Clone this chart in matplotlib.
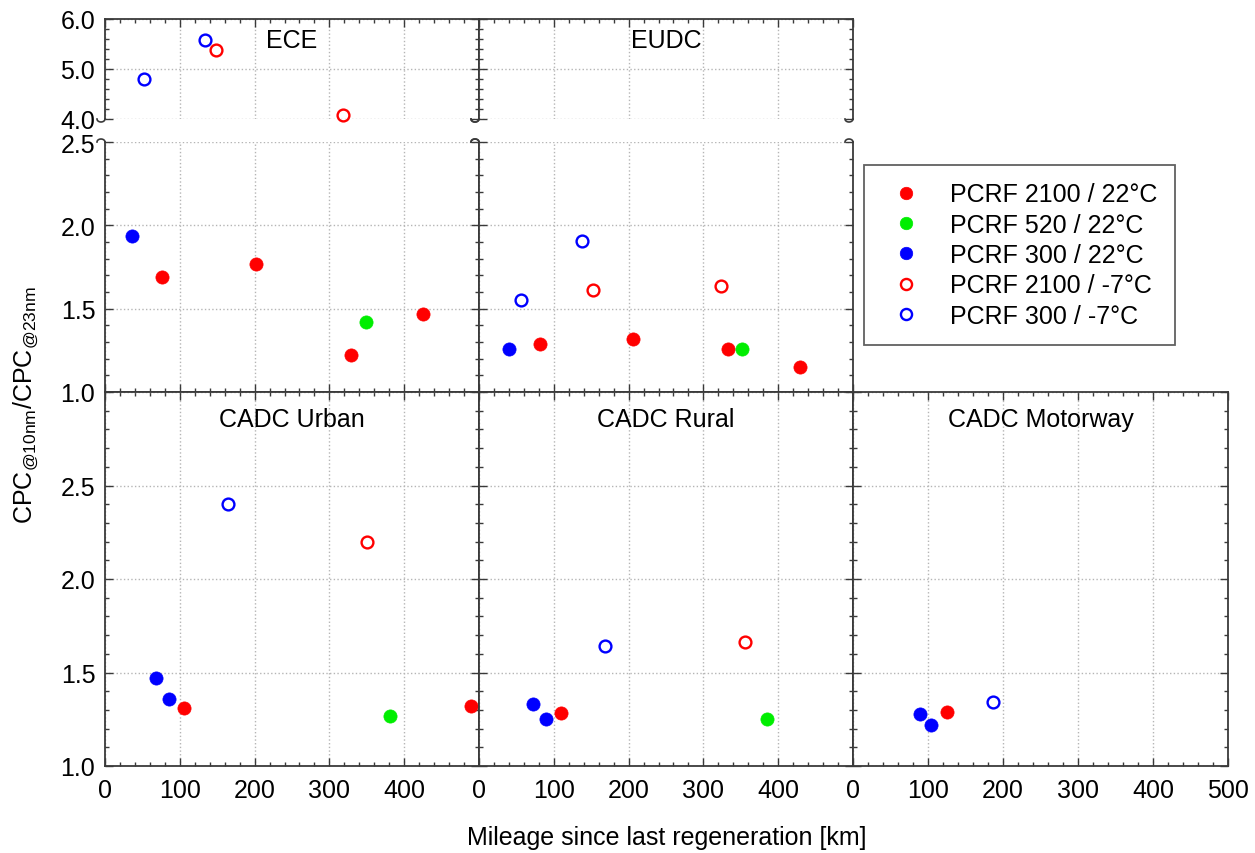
import numpy as np
import matplotlib
matplotlib.use('Agg')
import matplotlib.pyplot as plt
from matplotlib.lines import Line2D
from matplotlib.ticker import MultipleLocator

plt.rcParams['font.family'] = ['Liberation Sans', 'DejaVu Sans']
plt.rcParams['font.size'] = 18
plt.rcParams['mathtext.default'] = 'regular'

# panels of the chart
panels = ['ECE', 'EUDC', 'CADC Urban', 'CADC Rural', 'CADC Motorway']

# PCRF 2100 / 22°C (filled red)
red22_panel = ['ECE', 'ECE', 'ECE', 'ECE', 'EUDC', 'EUDC', 'EUDC', 'EUDC',
               'CADC Urban', 'CADC Urban', 'CADC Rural', 'CADC Motorway']
red22_km = [76, 202, 329, 425, 81, 206, 333, 429, 105, 489, 110, 125]
red22_ratio = [1.69, 1.77, 1.22, 1.47, 1.29, 1.32, 1.26, 1.15, 1.31, 1.32, 1.285, 1.29]

# PCRF 520 / 22°C (filled green)
green22_panel = ['ECE', 'EUDC', 'CADC Urban', 'CADC Rural']
green22_km = [349, 352, 381, 385]
green22_ratio = [1.42, 1.26, 1.27, 1.25]

# PCRF 300 / 22°C (filled blue)
blue22_panel = ['ECE', 'EUDC', 'CADC Urban', 'CADC Urban', 'CADC Rural', 'CADC Rural',
                'CADC Motorway', 'CADC Motorway']
blue22_km = [36, 40, 68, 85, 72, 89, 89, 104]
blue22_ratio = [1.935, 1.26, 1.47, 1.36, 1.33, 1.25, 1.28, 1.22]

# PCRF 2100 / -7°C (open red)
red7_panel = ['ECE', 'ECE', 'EUDC', 'EUDC', 'CADC Urban', 'CADC Rural']
red7_km = [148, 318, 153, 323, 350, 355]
red7_ratio = [5.38, 4.08, 1.615, 1.635, 2.20, 1.665]

# PCRF 300 / -7°C (open blue)
blue7_panel = ['ECE', 'ECE', 'EUDC', 'EUDC', 'CADC Urban', 'CADC Rural', 'CADC Motorway']
blue7_km = [52, 134, 56, 138, 165, 169, 186]
blue7_ratio = [4.80, 5.58, 1.55, 1.905, 2.40, 1.64, 1.34]

series = [
    ('PCRF 2100 / 22°C', red22_panel, red22_km, red22_ratio, '#ff0000', True),
    ('PCRF 520 / 22°C', green22_panel, green22_km, green22_ratio, '#00ee00', True),
    ('PCRF 300 / 22°C', blue22_panel, blue22_km, blue22_ratio, '#0000ff', True),
    ('PCRF 2100 / -7°C', red7_panel, red7_km, red7_ratio, '#ff0000', False),
    ('PCRF 300 / -7°C', blue7_panel, blue7_km, blue7_ratio, '#0000ff', False),
]

W, H = 1255, 854
fig = plt.figure(figsize=(W / 100, H / 100), dpi=100)
spine_c = '#3a3a3a'

def px(x0, y0, x1, y1):
    return [x0 / W, 1 - y1 / H, (x1 - x0) / W, (y1 - y0) / H]

cols = [105, 479, 853, 1228]

def style(ax, ymajor, yminor):
    ax.set_xlim(0, 500)
    ax.xaxis.set_major_locator(MultipleLocator(100))
    ax.xaxis.set_minor_locator(MultipleLocator(20))
    ax.yaxis.set_major_locator(MultipleLocator(ymajor))
    ax.yaxis.set_minor_locator(MultipleLocator(yminor))
    ax.tick_params(which='both', direction='in', top=True, right=True,
                   color=spine_c, width=1, labelsize=18)
    ax.tick_params(which='major', length=6)
    ax.tick_params(which='minor', length=3)
    ax.tick_params(axis='y', pad=7)
    ax.tick_params(axis='x', pad=9)
    ax.grid(True, which='major', ls=':', color='#b5b5b5', lw=1)
    for s in ax.spines.values():
        s.set_color(spine_c)
        s.set_linewidth(1.3)
    ax.set_facecolor('white')

def draw(ax, name, lo, hi):
    for label, pn, km, ratio, c, filled in series:
        xs = [k for p, k, r in zip(pn, km, ratio) if p == name and lo <= r <= hi]
        ys = [r for p, k, r in zip(pn, km, ratio) if p == name and lo <= r <= hi]
        if filled:
            ax.plot(xs, ys, 'o', ms=9.5, mfc=c, mec=c, mew=0.5, clip_on=False, zorder=3)
        else:
            ax.plot(xs, ys, 'o', ms=8.5, mfc='none', mec=c, mew=1.7, clip_on=False, zorder=3)

def brk(ax, ya, up):
    # small curl marks where the y axis is broken
    w, h = ax.bbox.width, ax.bbox.height
    t = np.linspace(0, np.pi, 12)
    sign = 1 if up else -1
    for xa in (0, 1):
        xs = xa + (-4 + 4 * np.cos(t)) / w
        ys = ya + sign * 3 * np.sin(t) / h
        ax.plot(xs, ys, color=spine_c, lw=1.2, transform=ax.transAxes, clip_on=False)

# top row: broken y axis for ECE and EUDC
for i, name in enumerate(panels[:2]):
    up = fig.add_axes(px(cols[i], 20, cols[i + 1], 120))
    lo = fig.add_axes(px(cols[i], 143, cols[i + 1], 393))
    up.set_ylim(4.0, 6.0)
    lo.set_ylim(1.0, 2.5)
    style(up, 1.0, 0.2)
    style(lo, 0.5, 0.1)
    up.spines['bottom'].set_visible(False)
    lo.spines['top'].set_visible(False)
    up.tick_params(which='both', bottom=False, labelbottom=False)
    lo.tick_params(which='both', top=False, labelbottom=False)
    up.set_yticks([4.0, 5.0, 6.0])
    if i == 0:
        up.set_yticklabels(['4.0', '5.0', '6.0'])
        lo.set_yticks([1.0, 1.5, 2.0, 2.5])
        lo.set_yticklabels(['1.0', '1.5', '2.0', '2.5'])
    else:
        up.tick_params(labelleft=False)
        lo.tick_params(labelleft=False)
    draw(up, name, 3.0, 10)
    draw(lo, name, 0, 3.0)
    up.text(0.5, 0.79, name, transform=up.transAxes, ha='center', va='center', fontsize=18)
    brk(up, 0, False)
    brk(lo, 1, True)

# bottom row: CADC phases
for i, name in enumerate(panels[2:]):
    ax = fig.add_axes(px(cols[i], 393, cols[i + 1], 767))
    ax.set_ylim(1.0, 3.0)
    style(ax, 0.5, 0.1)
    ax.set_xticks([0, 100, 200, 300, 400, 500])
    if i < 2:
        ax.set_xticklabels(['0', '100', '200', '300', '400', ''])
    if i == 0:
        ax.set_yticks([1.0, 1.5, 2.0, 2.5, 3.0])
        ax.set_yticklabels(['1.0', '1.5', '2.0', '2.5', ''])
    else:
        ax.tick_params(labelleft=False)
    draw(ax, name, 0, 10)
    ax.text(0.5, 0.928, name, transform=ax.transAxes, ha='center', va='center', fontsize=18)

handles = []
for label, pn, km, ratio, c, filled in series:
    if filled:
        handles.append(Line2D([], [], ls='none', marker='o', ms=9, mfc=c, mec=c, mew=0.5, label=label))
    else:
        handles.append(Line2D([], [], ls='none', marker='o', ms=8, mfc='none', mec=c, mew=1.7, label=label))

leg = fig.legend(handles=handles, loc='upper left', bbox_to_anchor=(864 / W, 1 - 166 / H),
                 frameon=True, fancybox=False, edgecolor=spine_c, fontsize=18,
                 labelspacing=0.25, handlelength=1.96, handletextpad=0.78,
                 borderpad=0.7, borderaxespad=0)
leg.get_frame().set_linewidth(1.3)

fig.text(26 / W, 1 - 405 / H, r'CPC$_{@10nm}$/CPC$_{@23nm}$', rotation=90,
         ha='center', va='center', fontsize=18)
fig.text(667 / W, 1 - 838 / H, 'Mileage since last regeneration [km]',
         ha='center', va='center', fontsize=18)

fig.savefig('out.png', dpi=100, facecolor='white')
